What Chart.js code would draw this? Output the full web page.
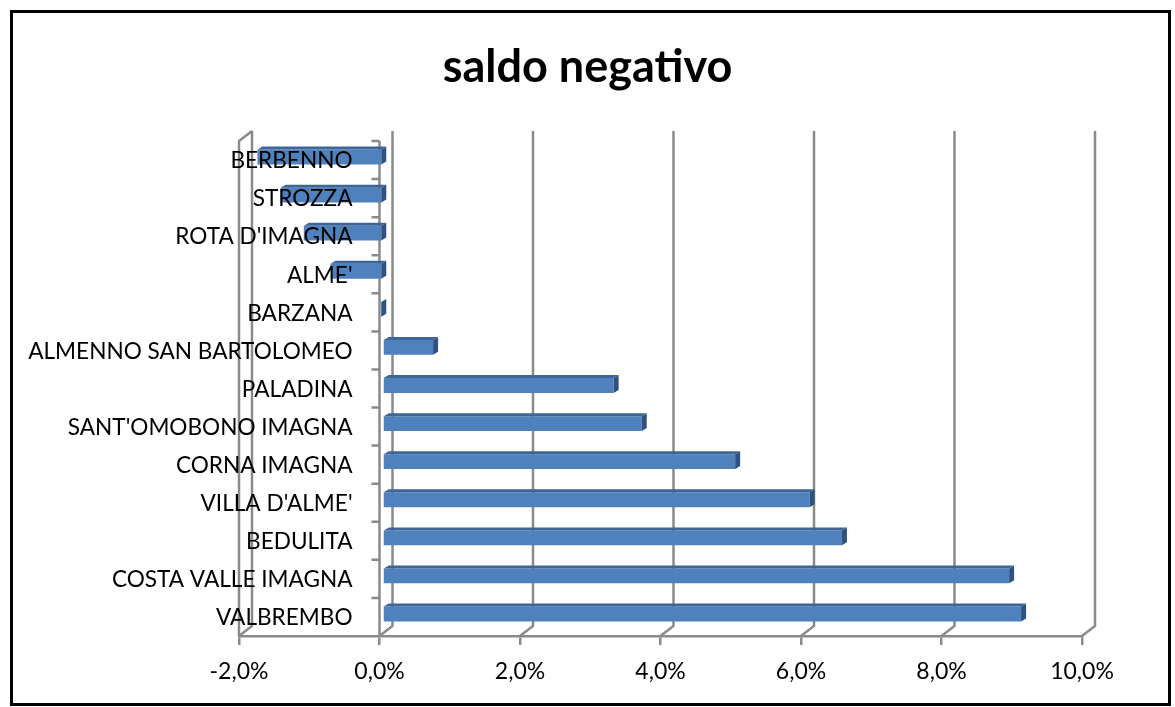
<!DOCTYPE html>
<html>
<head>
<meta charset="utf-8">
<script src="https://cdn.jsdelivr.net/npm/chart.js@4"></script>
<style>
  html, body { margin: 0; padding: 0; background: #fff; }
  #wrap { width: 1175px; height: 707px; }
</style>
</head>
<body>
<div id="wrap"><canvas id="saldoChart" width="1175" height="707"></canvas></div>
<script>
// comuni, dall'alto verso il basso
const comuni = ['BERBENNO', 'STROZZA', "ROTA D'IMAGNA", "ALME'", 'BARZANA',
    'ALMENNO SAN BARTOLOMEO', 'PALADINA', "SANT'OMOBONO IMAGNA", 'CORNA IMAGNA',
    "VILLA D'ALME'", 'BEDULITA', 'COSTA VALLE IMAGNA', 'VALBREMBO'];
const saldo = [-1.78, -1.45, -1.12, -0.74, -0.02, 0.72, 3.29, 3.69, 5.02, 6.08, 6.54, 8.92, 9.09];
const tickValori = [-2, 0, 2, 4, 6, 8, 10];

const FONT = 'Lato, "Open Sans", sans-serif';
const GRIGIO = '#8a8a8a';
const DX = 13, DY = 10;      // profondita' della parete di fondo
const BX = 3, BY = -3;       // spostamento delle barre
const FX = 5, FY = 3;        // spessore 3d delle barre

const formatta = v => v.toFixed(1).replace('.', ',') + '%';

const cornice = {
    id: 'cornice',
    beforeDraw(chart) {
        const ctx = chart.ctx;
        ctx.save();
        ctx.fillStyle = '#fff';
        ctx.fillRect(0, 0, chart.width, chart.height);
        ctx.strokeStyle = '#000';
        ctx.lineWidth = 3;
        ctx.strokeRect(11.5, 11.5, 1158, 693);
        ctx.restore();
    }
};

const pareti = {
    id: 'pareti',
    beforeDatasetsDraw(chart) {
        const ctx = chart.ctx;
        const xs = chart.scales.x;
        const area = chart.chartArea;
        ctx.save();
        ctx.strokeStyle = GRIGIO;
        ctx.lineWidth = 2.5;
        // griglia sulla parete di fondo + raccordi col pavimento
        tickValori.forEach(v => {
            const xf = xs.getPixelForValue(v);
            ctx.beginPath();
            ctx.moveTo(xf + DX, area.top - DY);
            ctx.lineTo(xf + DX, area.bottom - DY);
            ctx.lineTo(xf, area.bottom);
            ctx.stroke();
        });
        // parete sinistra
        const xl = xs.getPixelForValue(tickValori[0]);
        ctx.beginPath();
        ctx.moveTo(xl + DX, area.top - DY);
        ctx.lineTo(xl, area.top);
        ctx.lineTo(xl, area.bottom);
        ctx.stroke();
        // asse delle categorie sullo 0%
        const x0 = xs.getPixelForValue(0);
        ctx.beginPath();
        ctx.moveTo(x0, area.top);
        ctx.lineTo(x0, area.bottom);
        const passo = (area.bottom - area.top) / comuni.length;
        for (let i = 0; i < comuni.length; i++) {
            const y = area.top + i * passo;
            ctx.moveTo(x0, y);
            ctx.lineTo(x0 - 8, y);
        }
        ctx.stroke();
        ctx.restore();

        ctx.save();
        ctx.translate(BX, BY);
    },
    afterDatasetsDraw(chart) {
        const ctx = chart.ctx;
        const meta = chart.getDatasetMeta(0);
        meta.data.forEach(bar => {
            const p = bar.getProps(['x', 'y', 'base', 'height'], true);
            const sx = Math.min(p.x, p.base);
            const dx = Math.max(p.x, p.base);
            const top = p.y - p.height / 2;
            const bottom = p.y + p.height / 2;
            // faccia superiore
            ctx.fillStyle = '#3d6597';
            ctx.beginPath();
            ctx.moveTo(sx, top);
            ctx.lineTo(dx, top);
            ctx.lineTo(dx + FX, top - FY);
            ctx.lineTo(sx + FX, top - FY);
            ctx.closePath();
            ctx.fill();
            // faccia laterale
            ctx.fillStyle = '#2f5280';
            ctx.beginPath();
            ctx.moveTo(dx, top);
            ctx.lineTo(dx + FX, top - FY);
            ctx.lineTo(dx + FX, bottom - FY);
            ctx.lineTo(dx, bottom);
            ctx.closePath();
            ctx.fill();
        });
        ctx.restore();

        // etichette delle categorie, allineate a destra vicino all'asse dello 0%
        const ys = chart.scales.y;
        const xLab = chart.scales.x.getPixelForValue(0) - 27;
        ctx.save();
        ctx.fillStyle = '#000';
        ctx.font = '22.6px ' + FONT;
        ctx.textAlign = 'right';
        ctx.textBaseline = 'middle';
        comuni.forEach((nome, i) => {
            ctx.fillText(nome, xLab, ys.getPixelForValue(i) + 1);
        });
        ctx.restore();
    }
};

new Chart(document.getElementById('saldoChart'), {
    type: 'bar',
    data: {
        labels: comuni,
        datasets: [{
            label: 'saldo negativo',
            data: saldo,
            backgroundColor: '#4f81bd',
            borderWidth: 0,
            barPercentage: 0.39,
            categoryPercentage: 1
        }]
    },
    options: {
        indexAxis: 'y',
        responsive: false,
        animation: false,
        layout: { padding: 0 },
        plugins: {
            legend: { display: false },
            tooltip: { enabled: false },
            title: {
                display: true,
                text: 'saldo negativo',
                color: '#000',
                font: { family: FONT, size: 45, weight: 'bold', lineHeight: 1.2 },
                padding: { top: 40, bottom: 47 }
            }
        },
        scales: {
            x: {
                type: 'linear',
                min: -2,
                max: 10,
                afterBuildTicks: s => { s.ticks = tickValori.map(v => ({ value: v })); },
                afterFit: s => { s.height = 71; },
                border: { display: true, color: GRIGIO, width: 2.5 },
                grid: { display: true, drawOnChartArea: false, drawTicks: true, tickLength: 9, color: GRIGIO, lineWidth: 2.5 },
                ticks: {
                    color: '#000',
                    font: { family: FONT, size: 23 },
                    padding: 13,
                    maxRotation: 0,
                    callback: v => formatta(v)
                }
            },
            y: {
                position: 'left',
                afterFit: s => { s.width = 239; },
                border: { display: false },
                grid: { display: false, drawTicks: false },
                ticks: { display: false }
            },
            destra: {
                axis: 'y',
                type: 'category',
                position: 'right',
                afterFit: s => { s.width = 93; },
                border: { display: false },
                grid: { display: false, drawTicks: false },
                ticks: { display: false }
            }
        }
    },
    plugins: [cornice, pareti]
});
</script>
</body>
</html>
